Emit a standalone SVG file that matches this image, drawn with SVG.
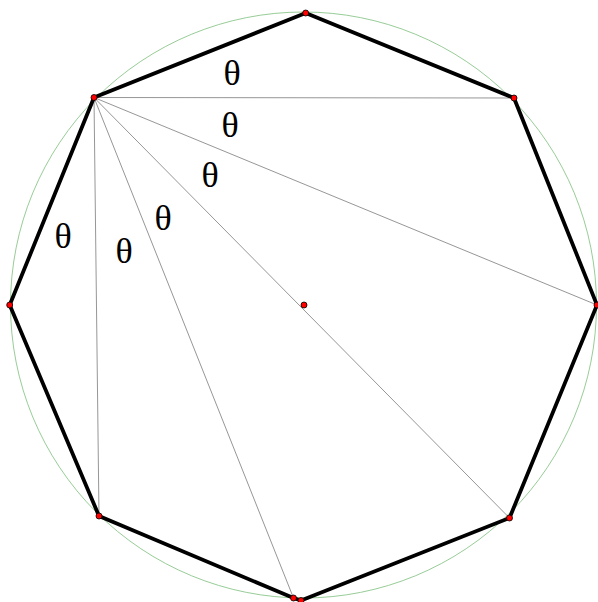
<svg xmlns="http://www.w3.org/2000/svg" width="598" height="602" viewBox="0 0 598 602">
<style>
.thin{stroke:#8a8a8a;stroke-width:0.9;fill:none}
.pt{fill:#ff0000;stroke:#000;stroke-width:0.8}
.lbl{font-family:"Liberation Serif","DejaVu Serif",serif;font-size:36px;fill:#000;text-anchor:middle}
</style>
<rect width="598" height="602" fill="#fff"/>
<circle id="circle" cx="303.5" cy="305" r="293" fill="none" stroke="#7cbf7c" stroke-width="0.8"/>
<g id="connectors">
<line class="thin" x1="94" y1="97.5" x2="514" y2="98"/>
<line class="thin" x1="94" y1="97.5" x2="597" y2="305"/>
<line class="thin" x1="94" y1="97.5" x2="509.5" y2="518"/>
<line class="thin" x1="94" y1="97.5" x2="293.5" y2="598"/>
<line class="thin" x1="94" y1="97.5" x2="99" y2="516"/>
</g>
<g id="octagon">
<polygon points="305.7,13 514,98 597,305 509.5,518 301,600.5 293.5,598 99,516 9.7,305 94,97.5" fill="none" stroke="#000" stroke-width="3.8" stroke-linejoin="miter"/>
</g>
<g id="points">
<circle class="pt" cx="305.7" cy="13" r="3"/>
<circle class="pt" cx="514" cy="98" r="3"/>
<circle class="pt" cx="597" cy="305" r="3"/>
<circle class="pt" cx="509.5" cy="518" r="3"/>
<circle class="pt" cx="301" cy="600.5" r="3"/>
<circle class="pt" cx="293.5" cy="598" r="3"/>
<circle class="pt" cx="99" cy="516" r="3"/>
<circle class="pt" cx="9.7" cy="305" r="3"/>
<circle class="pt" cx="94" cy="97.5" r="3"/>
<circle class="pt" cx="304" cy="305" r="3"/>
</g>
<g id="labels">
<text class="lbl" x="232" y="85">θ</text>
<text class="lbl" x="230" y="137">θ</text>
<text class="lbl" x="210" y="187">θ</text>
<text class="lbl" x="163" y="230">θ</text>
<text class="lbl" x="124" y="263">θ</text>
<text class="lbl" x="63" y="248">θ</text>
</g>
</svg>
